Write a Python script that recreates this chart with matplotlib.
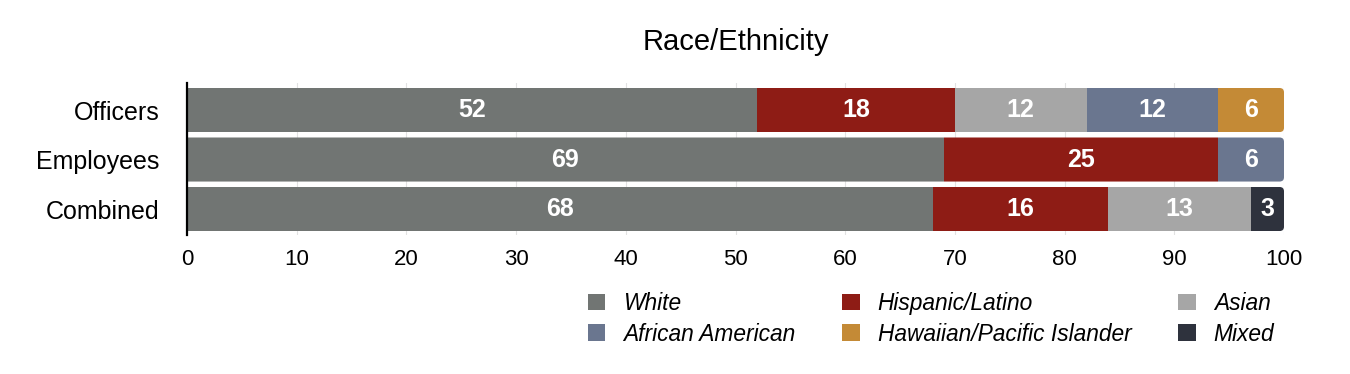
import matplotlib
matplotlib.use("Agg")
import matplotlib.pyplot as plt
from matplotlib.patches import Patch, FancyBboxPatch
import numpy as np

plt.rcParams['font.family'] = ['Liberation Sans', 'DejaVu Sans']

categories = ["Officers", "Employees", "Combined"]
series_names = ["White", "Hispanic/Latino", "Asian", "African American",
                "Hawaiian/Pacific Islander", "Mixed"]
white = [52, 69, 68]
hispanic = [18, 25, 16]
asian = [12, 0, 13]
african_american = [12, 6, 0]
hawaiian = [6, 0, 0]
mixed = [0, 0, 3]
xticks = [0, 10, 20, 30, 40, 50, 60, 70, 80, 90, 100]

colors = {
    "White": "#717573",
    "Hispanic/Latino": "#8E1C15",
    "Asian": "#A6A6A6",
    "African American": "#6A768F",
    "Hawaiian/Pacific Islander": "#C48A36",
    "Mixed": "#2E323D",
}

series = [white, hispanic, asian, african_american, hawaiian, mixed]

fig = plt.figure(figsize=(13.5, 3.74), dpi=100)
ax = fig.add_axes([187 / 1350, 1 - 235 / 374, (1284 - 187) / 1350, (235 - 83) / 374])

y = np.arange(len(categories))
bar_h = 0.89
totals = np.sum(np.array(series), axis=0)

# rounded clip paths for the right end of each bar
clips = []
for i in range(len(categories)):
    p = FancyBboxPatch((-5, y[i] - bar_h / 2), totals[i] + 5, bar_h,
                       boxstyle="round,pad=0,rounding_size=0.4",
                       mutation_aspect=0.22, transform=ax.transData)
    clips.append(p)

left = np.zeros(len(categories))
for name, vals in zip(series_names, series):
    vals = np.array(vals, dtype=float)
    bars = ax.barh(y, vals, left=left, height=bar_h, color=colors[name],
                   zorder=2, linewidth=0)
    for i, b in enumerate(bars):
        b.set_clip_path(clips[i])
        if vals[i] > 0:
            ax.text(left[i] + vals[i] / 2, y[i], f"{int(vals[i])}",
                    ha="center", va="center", color="white",
                    fontsize=18, fontweight="bold", zorder=3)
    left += vals

ax.set_xlim(0, 100)
ax.set_ylim(2.525, -0.546)
ax.set_yticks(y)
ax.set_yticklabels(categories, fontsize=18)
ax.set_xticks(xticks)
ax.set_xticklabels([str(t) for t in xticks], fontsize=16)
ax.tick_params(axis='y', length=0, pad=20)
ax.tick_params(axis='x', length=0, pad=10)
ax.xaxis.grid(True, color="#e2e2e2", linewidth=0.8, zorder=0)
ax.set_axisbelow(True)
for s in ["top", "right", "bottom"]:
    ax.spines[s].set_visible(False)
ax.spines["left"].set_linewidth(1.6)
ax.spines["left"].set_color("black")

ax.set_title("Race/Ethnicity", fontsize=21, pad=24)

order = ["White", "African American", "Hispanic/Latino",
         "Hawaiian/Pacific Islander", "Asian", "Mixed"]
handles = [Patch(facecolor=colors[n], edgecolor='none', label=n) for n in order]
leg = fig.legend(handles=handles, ncol=3, loc="upper left",
                 bbox_to_anchor=(588 / 1350, 1 - 292 / 374),
                 frameon=False, borderpad=0, borderaxespad=0,
                 handlelength=0.75, handleheight=0.75, handletextpad=0.8,
                 columnspacing=2.06, labelspacing=0.33,
                 prop={"size": 16.4, "style": "italic"})

fig.savefig("out.png", dpi=100)
